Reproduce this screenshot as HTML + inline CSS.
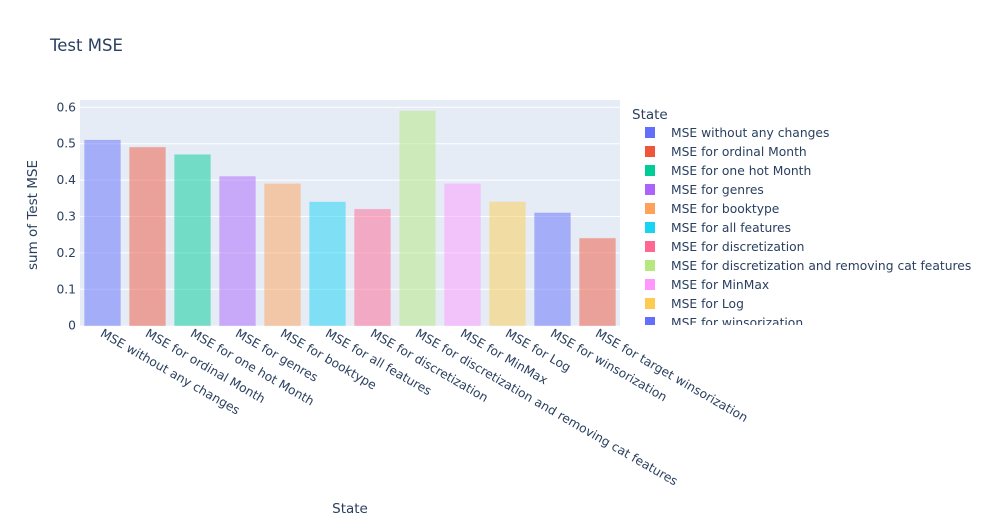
<!DOCTYPE html>
<html><head><meta charset="utf-8"><style>
body{margin:0;background:#fff;font-family:"DejaVu Sans","Liberation Sans",sans-serif;}
text{fill:#2a3f5f;font-family:"DejaVu Sans","Liberation Sans",sans-serif;}
</style></head><body>
<svg id="chart" width="984" height="525">
<rect width="984" height="525" fill="#fff"/>
<text x="50" y="51" font-size="16.5">Test MSE</text>
<rect x="80" y="100" width="540" height="225.7" fill="#e5ecf6"/>
<g id="grid"></g><g id="bars"></g><g id="xlabels"></g><g id="ylabels"></g>
<text x="350" y="513" font-size="13.5" text-anchor="middle">State</text>
<text transform="translate(37,215) rotate(-90)" font-size="13.5" text-anchor="middle">sum of Test MSE</text>
<text x="632" y="119" font-size="13.5">State</text>
<svg x="620" y="122" width="364" height="203" overflow="hidden"><g id="legend"></g></svg>
</svg>
<script>
const categories=["MSE without any changes","MSE for ordinal Month","MSE for one hot Month","MSE for genres","MSE for booktype","MSE for all features","MSE for discretization","MSE for discretization and removing cat features","MSE for MinMax","MSE for Log","MSE for winsorization","MSE for target winsorization"];
const values=[0.51,0.49,0.47,0.41,0.39,0.34,0.32,0.59,0.39,0.34,0.31,0.24];
const yTicks=[0,0.1,0.2,0.3,0.4,0.5,0.6];
const yTickLabels=["0","0.1","0.2","0.3","0.4","0.5","0.6"];
const palette=["#636efa","#EF553B","#00cc96","#ab63fa","#FFA15A","#19d3f3","#FF6692","#B6E880","#FF97FF","#FECB52"];
const NS="http://www.w3.org/2000/svg";
const x0=80,x1=620,yBase=325.7,pxPer=364;
const band=(x1-x0)/categories.length;
function xs(i){return x0+band*i+band/2;}
function ys(v){return yBase-v*pxPer;}
function mk(t,a,p){const e=document.createElementNS(NS,t);for(const k in a)e.setAttribute(k,a[k]);p.appendChild(e);return e;}
const grid=document.getElementById('grid'),yl=document.getElementById('ylabels');
yTicks.forEach((v,i)=>{
 if(v>0){const l=mk('line',{x1:x0,x2:x1,y1:ys(v),y2:ys(v),stroke:'#fff','stroke-width':1},grid);
 
 }
 const t=mk('text',{x:76,y:ys(v)+4,'font-size':12.3,'text-anchor':'end'},yl);t.textContent=yTickLabels[i];
 
 
});
const bars=document.getElementById('bars'),xl=document.getElementById('xlabels'),lg=document.getElementById('legend');
categories.forEach((c,i)=>{
 const col=palette[i%palette.length],w=band*0.8;
 const r=mk('rect',{x:xs(i)-w/2,y:ys(values[i]),width:w,height:yBase-ys(values[i]),fill:col,'fill-opacity':0.5,stroke:col,'stroke-opacity':0.1},bars);
 
 
 const t=mk('text',{x:0,y:0,'font-size':12.3,transform:`translate(${xs(i)-3},${yBase+10}) rotate(30)`},xl);t.textContent=c;
 
 
 const g=mk('g',{},lg);
 
 
 const yy=10+i*19;
 mk('rect',{x:25,y:yy-5,width:10,height:11,fill:col},g);
 const lt=mk('text',{x:51,y:yy+5,'font-size':12.3},g);lt.textContent=c;
});
</script>
</body></html>
